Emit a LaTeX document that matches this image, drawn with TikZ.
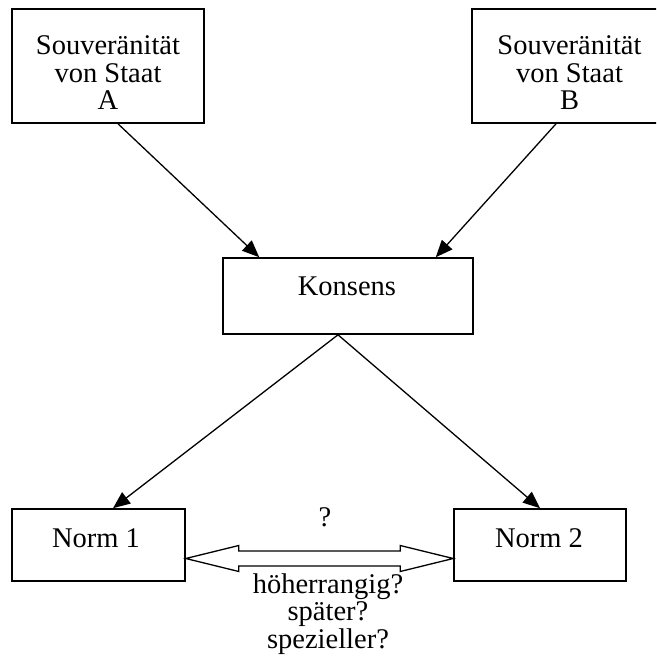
\documentclass[tikz,border=0pt]{standalone}
\usepackage{fontspec}
\setmainfont{Liberation Serif}
\usetikzlibrary{calc,arrows.meta}
\begin{document}
\begin{tikzpicture}[x=1pt,y=-1pt,
  frame/.style={draw, line width=1.6pt, inner sep=0pt},
  txt/.style={anchor=base, inner sep=0pt, align=center, font=\fontsize{28.5}{27.5}\selectfont},
  conn/.style={line width=1.3pt, -{Triangle[length=17pt,width=14pt]}}]
\useasboundingbox (0,0) rectangle (656,666);
\clip (0,0) rectangle (656,666);
% boxes
\node[frame, minimum width=192pt, minimum height=114pt] (a) at (108,66) {};
\node[frame, minimum width=195pt, minimum height=114pt] (b) at (569.5,66) {};
\node[frame, minimum width=250pt, minimum height=76pt] (k) at (348,296) {};
\node[frame, minimum width=173pt, minimum height=72pt] (n1) at (98.5,545) {};
\node[frame, minimum width=172pt, minimum height=72pt] (n2) at (540,545) {};
% texts
\node[txt] (ta) at (108,110) {Souveränität\\von Staat\\A};
\node[txt] (tb) at (569.5,110) {Souveränität\\von Staat\\B};
\node[txt] (tk) at (347,295) {Konsens};
\node[txt] (tn1) at (96,547) {Norm 1};
\node[txt] (tn2) at (539,547) {Norm 2};
\node[txt] (tq) at (325,526) {?};
\node[txt] (tl) at (328,648) {höherrangig?\\später?\\spezieller?};
% connectors
\draw[conn] ($(a.south)+(10,0)$) -- ($(k.north west)+(37,0)$);
\draw[conn] ($(b.south)+(-13.5,0)$) -- ($(k.north east)+(-38,0)$);
\draw[conn] ($(k.south)+(-10,0)$) -- ($(n1.north)+(14.5,0)$);
\draw[conn] ($(k.south)+(-10,0)$) -- (n2.north);
% double arrow
\coordinate (dl) at ($(n1.east)+(0,13.5)$);
\coordinate (dr) at ($(n2.west)+(0,13.5)$);
\draw[line width=1.3pt, fill=white, line join=miter]
  (dl) -- ($(dl)+(53,-13)$) -- ($(dl)+(53,-7.5)$) -- ($(dr)+(-53,-7.5)$)
  -- ($(dr)+(-53,-13)$) -- (dr) -- ($(dr)+(-53,13)$) -- ($(dr)+(-53,7.5)$)
  -- ($(dl)+(53,7.5)$) -- ($(dl)+(53,13)$) -- cycle;
\end{tikzpicture}
\end{document}
